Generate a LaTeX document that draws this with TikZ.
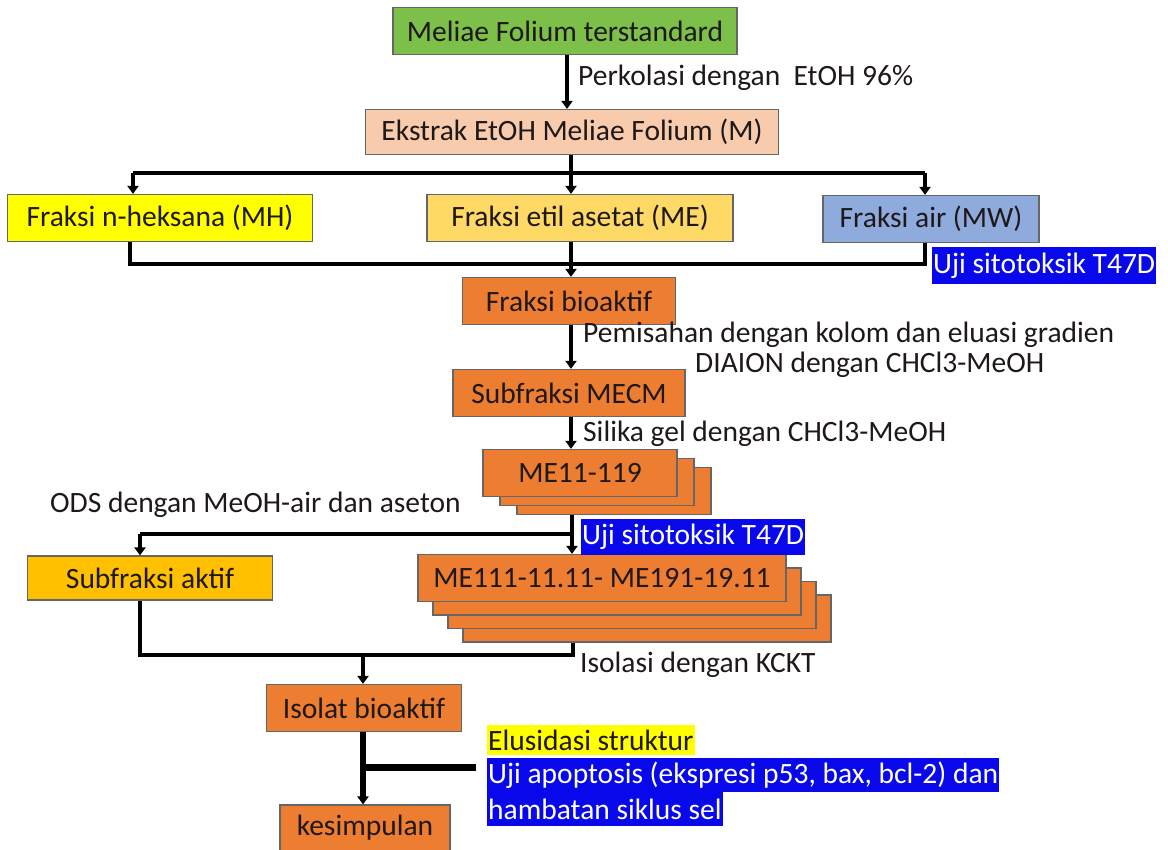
\documentclass[tikz,border=0pt]{standalone}
\usepackage{fontspec}
\setmainfont{Carlito}
\usepackage{xcolor}
\usepackage{tikz}
\usetikzlibrary{arrows.meta,positioning,calc}
\definecolor{cgreen}{RGB}{124,192,74}
\definecolor{cpeach}{RGB}{248,203,173}
\definecolor{cyellow}{RGB}{255,255,0}
\definecolor{clorange}{RGB}{255,217,102}
\definecolor{cslate}{RGB}{143,170,220}
\definecolor{corange}{RGB}{237,125,49}
\definecolor{cgold}{RGB}{255,192,0}
\definecolor{cblue}{RGB}{8,8,235}
\definecolor{ctext}{RGB}{30,24,24}

\begin{document}
\begin{tikzpicture}[
  x=1pt, y=-1pt,
  every node/.style={font=\fontsize{29.5}{34}\selectfont,text=ctext},
  box/.style={rectangle,draw=black!60,line width=1.2pt,inner sep=0pt},
  stackbox/.style={box,fill=corange},
  note/.style={inner sep=0pt,anchor=west},
  hiblue/.style={fill=cblue,text=white,inner xsep=1pt,inner ysep=0pt,anchor=west},
  flow/.style={line width=4.5pt},
  arr/.style={line width=4pt,-{Triangle[width=11pt,length=8pt]}},
]
\useasboundingbox (0,0) rectangle (1168,850);

% main column
\node[box,fill=cgreen,minimum width=344,minimum height=47] (std) at (565,31) {Meliae Folium terstandard};
\node[box,fill=cpeach,minimum width=413,minimum height=45] (ekstrak) at (572,132) {Ekstrak EtOH Meliae Folium (M)};
\node[box,fill=cyellow,minimum width=305,minimum height=47] (mh) at (160,218) {Fraksi n-heksana (MH)};
\node[box,fill=clorange,minimum width=306,minimum height=47] (me) at (580,218) {Fraksi etil asetat (ME)};
\node[box,fill=cslate,minimum width=216,minimum height=47] (mw) at (931,219) {Fraksi air (MW)};
\node[box,fill=corange,minimum width=213,minimum height=47] (bio) at (569,301) {Fraksi bioaktif};
\node[box,fill=corange,minimum width=232,minimum height=47] (mecm) at (569,393) {Subfraksi MECM};

% stacked fractions
\foreach \i/\k in {c/2,b/1}
  \node[stackbox,minimum width=194,minimum height=47] (me11\i) at (580+17*\k,473+9*\k) {};
\node[stackbox,minimum width=194,minimum height=47] (me11a) at (580,473) {ME11-119};
\foreach \i/\k in {d/3,c/2,b/1}
  \node[stackbox,minimum width=368,minimum height=47] (me111\i) at (602+15*\k,578+13.5*\k) {};
\node[stackbox,minimum width=368,minimum height=47] (me111a) at (602,578) {ME111-11.11- ME191-19.11};

\node[box,fill=cgold,minimum width=245,minimum height=44] (subaktif) at (150,578) {Subfraksi aktif};
\node[box,fill=corange,minimum width=195,minimum height=47] (isolat) at (364,708) {Isolat bioaktif};
\node[box,fill=corange,minimum width=170,minimum height=46] (simpul) at (365,828) {kesimpulan};

% labels
\node[note] (perk) at (578,78) {Perkolasi dengan\ \ EtOH 96\%};
\node[note] (pem1) at (583,335) {Pemisahan dengan kolom dan eluasi gradien};
\node[note] (pem2) at (695,365) {DIAION dengan CHCl3-MeOH};
\node[note] (silika) at (583,434) {Silika gel dengan CHCl3-MeOH};
\node[note] (ods) at (50,505) {ODS dengan MeOH-air dan aseton};
\node[note] (kckt) at (580,665) {Isolasi dengan KCKT};
\node[hiblue,minimum height=37] (uji1) at (932,266) {Uji sitotoksik T47D};
\node[hiblue,minimum height=36] (uji2) at (581,537) {Uji sitotoksik T47D};
\node[note,fill=cyellow,inner xsep=1pt,minimum height=30] (elus) at (487,740) {Elusidasi struktur};
\node[hiblue,minimum height=34] (apop1) at (487,775) {Uji apoptosis (ekspresi p53, bax, bcl-2) dan};
\node[hiblue,minimum height=34] (apop2) at (487,809) {hambatan siklus sel};

% connectors
\coordinate (jl) at (133,173);
\coordinate (jr) at (925,173);
\coordinate (jm) at (571,173);
\draw[arr] (std.south -| 567,0) -- (ekstrak.north -| 567,0);
\draw[flow] (jl) -- (jr);
\draw[arr] (jl) -- (jl |- mh.north);
\draw[arr] (jr) -- (jr |- mw.north);
\draw[arr] (ekstrak.south -| jm) -- (me.north -| jm);

\coordinate (kl) at (130,264);
\coordinate (kr) at (925,264);
\draw[flow] (kl |- mh.south) -- (kl) -- (kr) -- (kr |- mw.south);
\draw[arr] (me.south -| jm) -- (bio.north -| jm);

\draw[arr] (bio.south -| jm) -- (mecm.north -| jm);
\draw[arr] (mecm.south -| jm) -- (me11a.north -| jm);

\coordinate (odsj) at (572,534);
\coordinate (odsl) at (140,534);
\draw[arr] (me11c.south -| odsj) -- (me111a.north -| odsj);
\draw[flow] (odsj) -- (odsl);
\draw[arr] (odsl) -- (odsl |- subaktif.north);

\coordinate (ml) at (140,655);
\coordinate (mr) at (573,655);
\coordinate (mm) at (363,655);
\draw[flow] (ml |- subaktif.south) -- (ml) -- (mr) -- (mr |- me111d.south);
\draw[arr] (mm) -- (mm |- isolat.north);

\coordinate (bar) at (476,767);
\draw[arr,line width=5.5pt] (isolat.south -| mm) -- (simpul.north -| mm);
\draw[line width=7pt] (mm |- bar) -- (bar);
\end{tikzpicture}
\end{document}
